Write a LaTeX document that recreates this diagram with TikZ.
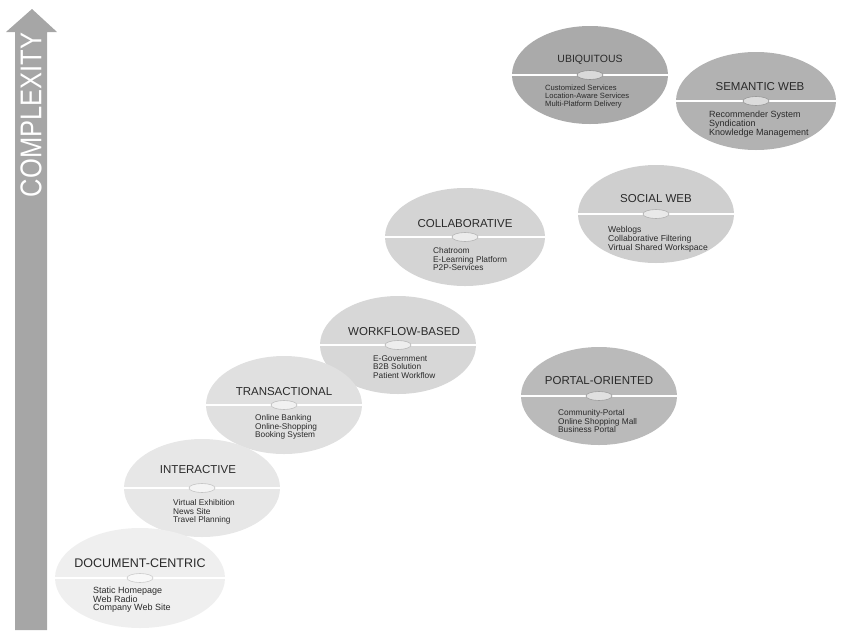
\documentclass[tikz,border=0pt]{standalone}
\usepackage{fontspec}
\setmainfont{Liberation Sans}
\newfontfamily\axisfont[FakeStretch=0.85]{Liberation Sans}
\usetikzlibrary{shapes.geometric, positioning}
\definecolor{axiscol}{HTML}{A6A6A6}
\definecolor{doccol}{HTML}{EFEFEF}
\definecolor{intcol}{HTML}{E7E7E7}
\definecolor{trancol}{HTML}{E0E0E0}
\definecolor{flowcol}{HTML}{D7D7D7}
\definecolor{collcol}{HTML}{D4D4D4}
\definecolor{soccol}{HTML}{CFCFCF}
\definecolor{portcol}{HTML}{BABABA}
\definecolor{ubicol}{HTML}{AAAAAA}
\definecolor{semcol}{HTML}{B2B2B2}
\definecolor{txtcol}{HTML}{2A2A2A}

\begin{document}
\begin{tikzpicture}[
    x=1pt, y=-1pt,
    disc/.style={ellipse, minimum width=156pt, minimum height=98pt, inner sep=0pt},
    hub/.style={ellipse, minimum width=26pt, minimum height=9pt, inner sep=0pt, line width=0.6pt},
    midline/.style={draw=white, line width=1.6pt},
    disctitle/.style={inner sep=0pt, text=txtcol, font=\fontsize{11.5}{12}\selectfont},
    disclist/.style={inner sep=0pt, align=left, text=txtcol, font=\fontsize{8.3}{8.8}\selectfont},
]
\useasboundingbox (0,0) rectangle (851,630);

% ===== Complexity axis =====
\fill[axiscol] (15,630) -- (15,32) -- (6,32) -- (32,9) -- (57,32) -- (47,32) -- (47,630) -- cycle;
\node[rotate=90, inner sep=0pt, text=white, font=\axisfont\fontsize{30}{30}\selectfont] (axis) at (31,115) {COMPLEXITY};

% ===== Top row =====
\node[disc, fill=ubicol] (ubiq) at (590,75) {};
\draw[midline] (ubiq.west) -- (ubiq.east);
\node[hub, fill=ubicol!45!white, draw=ubicol!85!black] (ubiqhub) at (ubiq.center) {};
\node[disctitle, font=\fontsize{10.5}{11}\selectfont, above=10pt of ubiq.center] (ubiqtitle) {UBIQUITOUS};
\node[disclist, font=\fontsize{7.6}{7.8}\selectfont, below right=10pt and -45pt of ubiq.center] (ubiqlist)
     {Customized Services\\Location-Aware Services\\Multi-Platform Delivery};

\node[disc, fill=semcol, minimum width=160pt] (sem) at (756,101) {};
\draw[midline] (sem.west) -- (sem.east);
\node[hub, fill=semcol!45!white, draw=semcol!85!black] (semhub) at (sem.center) {};
\node[disctitle, above=10pt of sem.center, xshift=4pt] (semtitle) {SEMANTIC WEB};
\node[disclist, font=\fontsize{9}{8.8}\selectfont, below right=10pt and -47pt of sem.center] (semlist)
     {Recommender System\\Syndication\\Knowledge Management};

% ===== Middle row =====
\node[disc, fill=soccol] (social) at (656,214) {};
\draw[midline] (social.west) -- (social.east);
\node[hub, fill=soccol!45!white, draw=soccol!85!black] (socialhub) at (social.center) {};
\node[disctitle, above=11pt of social.center] (socialtitle) {SOCIAL WEB};
\node[disclist, font=\fontsize{8.6}{8.8}\selectfont, below right=12pt and -48pt of social.center] (sociallist)
     {Weblogs\\Collaborative Filtering\\Virtual Shared Workspace};

\node[disc, fill=collcol, minimum width=160pt] (collab) at (465,237) {};
\draw[midline] (collab.west) -- (collab.east);
\node[hub, fill=collcol!45!white, draw=collcol!85!black] (collabhub) at (collab.center) {};
\node[disctitle, above=9pt of collab.center] (collabtitle) {COLLABORATIVE};
\node[disclist, below right=10pt and -32pt of collab.center] (collablist)
     {Chatroom\\E-Learning Platform\\P2P-Services};

\node[disc, fill=portcol] (portal) at (599,396) {};
\draw[midline] (portal.west) -- (portal.east);
\node[hub, fill=portcol!45!white, draw=portcol!85!black] (portalhub) at (portal.center) {};
\node[disctitle, above=11pt of portal.center] (portaltitle) {PORTAL-ORIENTED};
\node[disclist, below right=13pt and -41pt of portal.center] (portallist)
     {Community-Portal\\Online Shopping Mall\\Business Portal};

% ===== Lower staircase =====
\node[disc, fill=flowcol] (flow) at (398,345) {};
\draw[midline] (flow.west) -- (flow.east);
\node[hub, fill=flowcol!45!white, draw=flowcol!85!black] (flowhub) at (flow.center) {};
\node[disctitle, above=9pt of flow.center, xshift=6pt] (flowtitle) {WORKFLOW-BASED};
\node[disclist, below right=10pt and -25pt of flow.center] (flowlist)
     {E-Government\\B2B Solution\\Patient Workflow};

\node[disc, fill=trancol] (trans) at (284,405) {};
\draw[midline] (trans.west) -- (trans.east);
\node[hub, fill=trancol!45!white, draw=trancol!85!black] (transhub) at (trans.center) {};
\node[disctitle, above=9pt of trans.center] (transtitle) {TRANSACTIONAL};
\node[disclist, below right=9pt and -29pt of trans.center] (translist)
     {Online Banking\\Online-Shopping\\Booking System};

\node[disc, fill=intcol] (inter) at (202,488) {};
\draw[midline] (inter.west) -- (inter.east);
\node[hub, fill=intcol!45!white, draw=intcol!85!black] (interhub) at (inter.center) {};
\node[disctitle, above=14pt of inter.center, xshift=-4pt] (intertitle) {INTERACTIVE};
\node[disclist, below right=11pt and -29pt of inter.center] (interlist)
     {Virtual Exhibition\\News Site\\Travel Planning};

\node[disc, fill=doccol, minimum width=170pt, minimum height=100pt] (doc) at (140,578) {};
\draw[midline] (doc.west) -- (doc.east);
\node[hub, fill=doccol!45!white, draw=doccol!85!black] (dochub) at (doc.center) {};
\node[disctitle, font=\fontsize{12.5}{13}\selectfont, above=10pt of doc.center] (doctitle) {DOCUMENT-CENTRIC};
\node[disclist, font=\fontsize{9}{8.6}\selectfont, below right=9pt and -47pt of doc.center] (doclist)
     {Static Homepage\\Web Radio\\Company Web Site};

\end{tikzpicture}
\end{document}
